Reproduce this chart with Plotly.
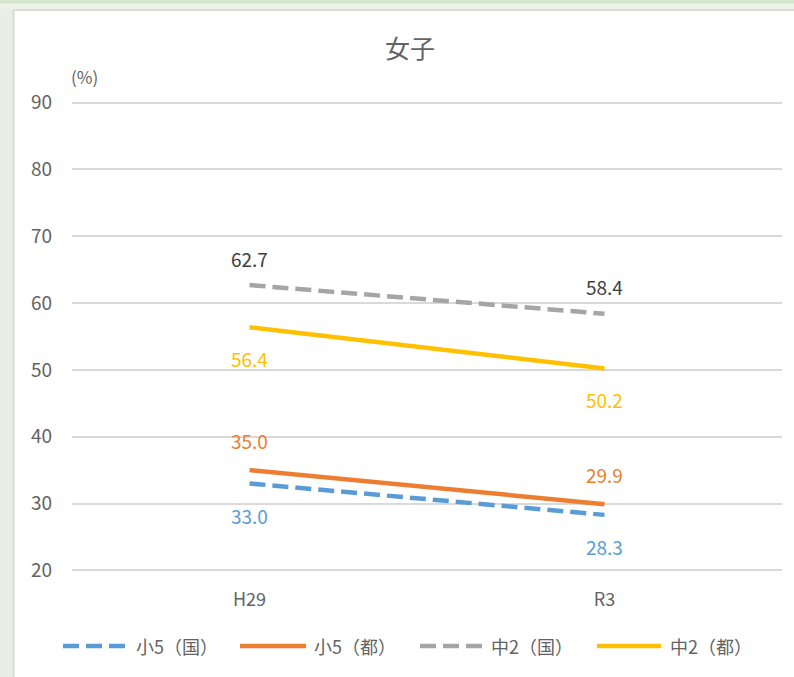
import plotly.graph_objects as go

# Survey years and series values (%)
years = ["H29", "R3"]
series_names = ["小5（国）", "小5（都）", "中2（国）", "中2（都）"]
shou5_kuni = [33.0, 28.3]
shou5_to = [35.0, 29.9]
chu2_kuni = [62.7, 58.4]
chu2_to = [56.4, 50.2]
y_ticks = [20, 30, 40, 50, 60, 70, 80, 90]

W, H = 794, 677
# plot area padded by one unit above/below so the 20 and 90 grid lines are drawn
Y_MIN, Y_MAX = 19, 91
ML, MR, MT, MB = 72, 12, 96, 100
PW, PH = W - ML - MR, H - MT - MB

FONT = "Noto Sans CJK JP"
TXT = "#636363"
DASH = "16px,7px"

styles = [
    # values, colour, dash, label colour, label offset (px)
    (shou5_kuni, "#5B9BD5", DASH, "#5B9BD5", -32),
    (shou5_to, "#ED7D31", "solid", "#ED7D31", 30),
    (chu2_kuni, "#A5A5A5", DASH, "#404040", 27),
    (chu2_to, "#FFC000", "solid", "#FFC000", -31),
]

# legend layout: sample line start/end and text start (px)
legend_slots = [(63, 126, 134), (240, 306, 312), (420, 482, 489), (597, 661, 668)]
LEGEND_Y = 646


def px_x(px):
    return (px - ML) / PW


def px_y(py):
    return (H - MB - py) / PH


fig = go.Figure()
annotations = []
shapes = []
for name, (vals, col, dash, lcol, off), (l0, l1, tx) in zip(series_names, styles, legend_slots):
    fig.add_trace(go.Scatter(
        x=years, y=vals, name=name, mode="lines",
        line=dict(color=col, width=4.5, dash=dash),
        hoverinfo="skip", showlegend=False,
    ))
    for x, v in zip(years, vals):
        annotations.append(dict(
            x=x, y=v, xref="x", yref="y", text=f"{v:.1f}", showarrow=False,
            yshift=off, font=dict(family=FONT, size=19, color=lcol),
        ))
    # legend entry
    shapes.append(dict(
        type="line", xref="paper", yref="paper",
        x0=px_x(l0), x1=px_x(l1), y0=px_y(LEGEND_Y), y1=px_y(LEGEND_Y),
        line=dict(color=col, width=4.5, dash=dash),
    ))
    annotations.append(dict(
        x=px_x(tx), y=px_y(LEGEND_Y), xref="paper", yref="paper",
        xanchor="left", yanchor="middle", text=name, showarrow=False,
        font=dict(family=FONT, size=18, color=TXT),
    ))

annotations.append(dict(
    x=px_x(84), y=px_y(76), xref="paper", yref="paper", text="(%)",
    xanchor="center", yanchor="middle",
    showarrow=False, font=dict(family=FONT, size=17, color=TXT),
))

shapes += [
    # outer green frame and chart border
    dict(type="rect", xref="paper", yref="paper", layer="below",
         x0=px_x(0), x1=px_x(13), y0=px_y(H), y1=px_y(0),
         fillcolor="#E9EFE5", line=dict(width=0)),
    dict(type="rect", xref="paper", yref="paper", layer="below",
         x0=px_x(0), x1=px_x(W), y0=px_y(9), y1=px_y(0),
         fillcolor="#EEF3EA", line=dict(width=0)),
    dict(type="rect", xref="paper", yref="paper", layer="below",
         x0=px_x(0), x1=px_x(W), y0=px_y(3.5), y1=px_y(0),
         fillcolor="#D6E5CD", line=dict(width=0)),
    dict(type="line", xref="paper", yref="paper", layer="below",
         x0=px_x(13.5), x1=px_x(W), y0=px_y(10), y1=px_y(10),
         line=dict(color="#D9D9D9", width=2)),
    dict(type="line", xref="paper", yref="paper", layer="below",
         x0=px_x(13.5), x1=px_x(13.5), y0=px_y(10), y1=px_y(H),
         line=dict(color="#D9D9D9", width=2)),
]

fig.update_layout(
    width=W, height=H,
    margin=dict(l=ML, r=MR, t=MT, b=MB),
    paper_bgcolor="white", plot_bgcolor="white",
    font=dict(family=FONT, color=TXT),
    title=dict(text="女子", x=px_x(410), xref="paper", xanchor="center",
               y=1 - 49 / H, yanchor="middle",
               font=dict(family=FONT, size=25, color=TXT)),
    xaxis=dict(type="category", range=[-0.5, 1.5], showgrid=False,
               showline=False, zeroline=False, ticks="",
               tickfont=dict(family=FONT, size=18, color=TXT), ticklabelstandoff=10),
    yaxis=dict(range=[Y_MIN, Y_MAX], tickvals=y_ticks, showgrid=True,
               gridcolor="#D9D9D9", gridwidth=2, zeroline=False,
               showline=False, ticks="", ticklabelstandoff=19,
               tickfont=dict(family=FONT, size=19, color=TXT)),
    showlegend=False,
    annotations=annotations,
    shapes=shapes,
)

fig.write_html("out.html")
